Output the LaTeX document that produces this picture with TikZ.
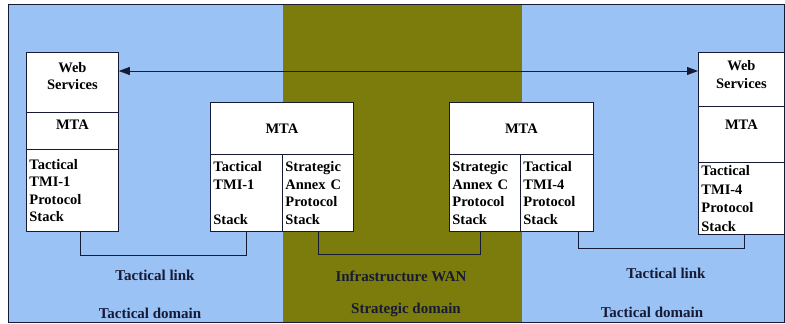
\documentclass[tikz,border=0pt]{standalone}
\usepackage{fontspec}
\setmainfont{Liberation Serif}[BoldFont={Liberation Serif Bold}]
\newfontfamily\diagfont{Liberation Serif Bold}
\usetikzlibrary{arrows.meta}

\definecolor{tacblue}{RGB}{155,194,244}
\definecolor{stratolive}{RGB}{124,124,12}
\definecolor{edgeink}{RGB}{22,26,52}

\tikzset{
    cell/.style={draw=edgeink, fill=white, line width=0.8pt, anchor=north west,
        inner xsep=3pt, inner ysep=0pt, align=left,
        font=\diagfont\fontsize{14.5}{17.5}\selectfont},
    ccell/.style={cell, align=center},
    lbl/.style={text=edgeink, font=\diagfont\fontsize{15}{17}\selectfont},
    link/.style={draw=edgeink, line width=0.8pt},
}

\begin{document}
\begin{tikzpicture}[x=1pt, y=-1pt]
    \useasboundingbox (0,0) rectangle (785,324);

    \def\Xl{8}
    \def\Xr{784}
    \def\Yt{4}
    \def\Yb{322}

    % domains
    \fill[tacblue] (\Xl, \Yt) rectangle (\Xr, \Yb);
    \fill[stratolive] (283, \Yt) rectangle (522, \Yb);
    \draw[edgeink, line width=0.8pt] (\Xl, \Yt) rectangle (\Xr, \Yb);

    % left tactical host
    \node[ccell, minimum height=60pt, text width=86pt, text depth=30pt] (web1) at (26, 52) {Web\\Services};
    \node[ccell, minimum height=37pt, text width=86pt, text depth=13pt] (mta1) at (26, 112) {MTA};
    \node[cell, minimum height=82pt, text width=86pt] (tmi1) at (26, 149) {Tactical\\TMI-1\\Protocol\\Stack};

    % left gateway
    \node[ccell, minimum height=52pt, text width=137pt] (mta2) at (210, 102) {MTA};
    \node[cell, minimum height=77pt, text width=66pt] (tmi2) at (210, 154) {Tactical\\TMI-1\\\mbox{}\\Stack};
    \node[cell, minimum height=77pt, text width=65pt] (anx2) at (282, 154) {Strategic\\Annex C\\Protocol\\Stack};

    % right gateway
    \node[ccell, minimum height=52pt, text width=138pt] (mta3) at (449, 102) {MTA};
    \node[cell, minimum height=77pt, text width=65pt] (anx3) at (449, 154) {Strategic\\Annex C\\Protocol\\Stack};
    \node[cell, minimum height=77pt, text width=67pt] (tmi3) at (520, 154) {Tactical\\TMI-4\\Protocol\\Stack};

    % right tactical host
    \node[ccell, minimum height=54pt, text width=80pt, text depth=27pt] (web4) at (698, 52) {Web\\Services};
    \node[ccell, minimum height=56pt, text width=80pt, text depth=20pt] (mta4) at (698, 106) {MTA};
    \node[cell, minimum height=72pt, text width=80pt, font=\diagfont\fontsize{14.5}{18.5}\selectfont] (tmi4) at (698, 162) {Tactical\\TMI-4\\Protocol\\Stack};

    % web services exchange
    \coordinate (wsy) at (0, 71);
    \draw[edgeink, line width=0.8pt, {Triangle[length=11pt,width=8pt]}-{Triangle[length=11pt,width=8pt]}]
        (web1.east |- wsy) -- (web4.west |- wsy);

    % links
    \draw[link] ([xshift=8pt]tmi1.south) -- ++(0, 24) -| (tmi2.south);
    \draw[link] (anx2.south) -- ++(0, 23) -| ([xshift=-5pt]anx3.south);
    \draw[link] ([xshift=21pt]tmi3.south) -- ++(0, 17) -| ([xshift=3pt]tmi4.south);

    % link labels
    \node[lbl] (tlinkl) at (155, 275) {Tactical link};
    \node[lbl] (wan) at (401, 276) {Infrastructure WAN};
    \node[lbl] (tlinkr) at (666, 273) {Tactical link};

    % domain labels
    \node[lbl] (tdoml) at (150, 313) {Tactical domain};
    \node[lbl] (sdom) at (406, 310) {Strategic domain};
    \node[lbl] (tdomr) at (652, 312) {Tactical domain};

\end{tikzpicture}
\end{document}
